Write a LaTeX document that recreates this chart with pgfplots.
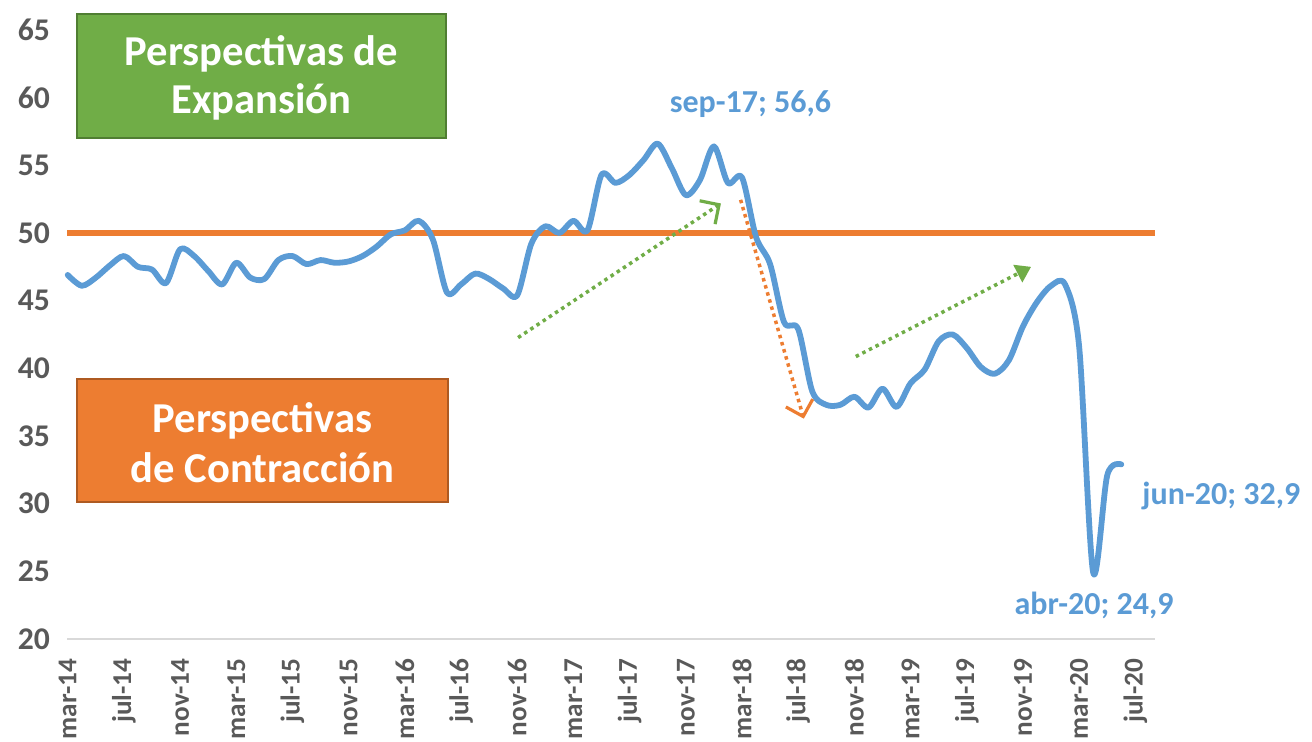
\documentclass[border=0pt]{standalone}
\usepackage{fontspec}
\setmainfont{Carlito}
\usepackage{pgfplots}
\pgfplotsset{compat=1.18}
\usetikzlibrary{arrows.meta}
\definecolor{lineblue}{HTML}{5B9BD5}
\definecolor{orng}{HTML}{ED7D31}
\definecolor{grn}{HTML}{70AD47}
\definecolor{grnb}{HTML}{507E32}
\definecolor{orngb}{HTML}{AE5A21}
\definecolor{tickc}{HTML}{595959}
\definecolor{gridc}{HTML}{D9D9D9}
\begin{document}
\begin{tikzpicture}
\begin{axis}[
  at={(0,0)}, anchor=south west,
  scale only axis, width=544pt, height=304.5pt,
  xmin=-0.05, xmax=77.4, ymin=20, ymax=65,
  clip=false,
  axis line style={draw=none},
  tick style={draw=none},
  ytick={20,25,...,65},
  xtick={0,4,...,76},
  xticklabels={mar-14,jul-14,nov-14,mar-15,jul-15,nov-15,mar-16,jul-16,nov-16,mar-17,jul-17,nov-17,mar-18,jul-18,nov-18,mar-19,jul-19,nov-19,mar-20,jul-20},
  /pgf/number format/assume math mode=true,
  y tick label style={font=\fontsize{15.8}{18}\selectfont\bfseries, text=tickc, xshift=-5pt},
  x tick label style={font=\fontsize{13.6}{16}\selectfont\bfseries, text=tickc, yshift=-6.3pt, rotate=90, anchor=east},
]
\draw[gridc, line width=1pt] (rel axis cs:0,0) -- (rel axis cs:1,0);
\addplot[orng, line width=2.8pt] coordinates {(-0.05,50) (77.4,50)};
\addplot[lineblue, line width=2.9pt, smooth, line join=round, line cap=round] coordinates {
(0,46.9) (1,46.1) (2,46.7) (3,47.6) (4,48.3) (5,47.5) (6,47.3) (7,46.3) (8,48.8) (9,48.3)
(10,47.2) (11,46.2) (12,47.8) (13,46.7) (14,46.6) (15,48.0) (16,48.3) (17,47.7) (18,48.0) (19,47.8)
(20,47.9) (21,48.3) (22,49.0) (23,49.9) (24,50.2) (25,50.9) (26,49.5) (27,45.6) (28,46.2) (29,47.0)
(30,46.6) (31,45.9) (32,45.4) (33,49.2) (34,50.5) (35,50.0) (36,50.9) (37,50.2) (38,54.3) (39,53.7)
(40,54.3) (41,55.4) (42,56.6) (43,54.8) (44,52.8) (45,53.9) (46,56.4) (47,53.7) (48,54.1) (49,49.7)
(50,47.7) (51,43.4) (52,42.9) (53,38.3) (54,37.3) (55,37.3) (56,37.9) (57,37.1) (58,38.5) (59,37.15)
(60,38.9) (61,39.9) (62,42.0) (63,42.5) (64,41.5) (65,40.1) (66,39.6) (67,40.6) (68,43.1) (69,44.9)
(70,46.1) (71,46.2) (72,41.6) (73,24.9) (74,32.1) (75,32.9)
};
% dotted trend arrows
\draw[grn, line width=1.75pt, dash pattern=on 1.75pt off 1.95pt, -{Straight Barb[length=7pt,width=14pt,line width=1.6pt]}]
  (axis cs:32.06,42.27) -- (axis cs:46.5,52.18);
\draw[orng, line width=1.75pt, dash pattern=on 1.75pt off 1.95pt, -{Straight Barb[length=7pt,width=14pt,line width=1.6pt]}]
  (axis cs:47.9,52.45) -- (axis cs:52.4,36.28);
\draw[grn, line width=1.75pt, dash pattern=on 1.75pt off 1.95pt, -{Triangle[length=7.5pt,width=9.5pt]}]
  (axis cs:56.1,40.87) -- (axis cs:68.58,47.5);
% data labels
\node[text=lineblue, font=\fontsize{16}{19}\selectfont\bfseries] at (axis cs:48.6,59.5) {sep-17; 56,6};
\node[text=lineblue, font=\fontsize{16}{19}\selectfont\bfseries, anchor=west, inner sep=0pt] at (axis cs:76.48,30.6) {jun-20; 32,9};
\node[text=lineblue, font=\fontsize{16}{19}\selectfont\bfseries] at (axis cs:73.06,22.5) {abr-20; 24,9};
\end{axis}
\pgfresetboundingbox
\useasboundingbox (-33.5pt,-51.5pt) rectangle (622.5pt,319.5pt);
% boxes
\draw[grnb, line width=0.9pt, fill=grn] (5pt,250.5pt) rectangle (189.5pt,312.5pt);
\node[text=white, align=center, font=\fontsize{21.3}{24}\selectfont\bfseries] at (97.25pt,280.5pt) {Perspectivas de\\Expansión};
\draw[orngb, line width=0.9pt, fill=orng] (5pt,68.5pt) rectangle (190.5pt,130pt);
\node[text=white, align=center, font=\fontsize{21.3}{25}\selectfont\bfseries] at (97.75pt,98pt) {Perspectivas\\de Contracción};
\end{tikzpicture}
\end{document}
